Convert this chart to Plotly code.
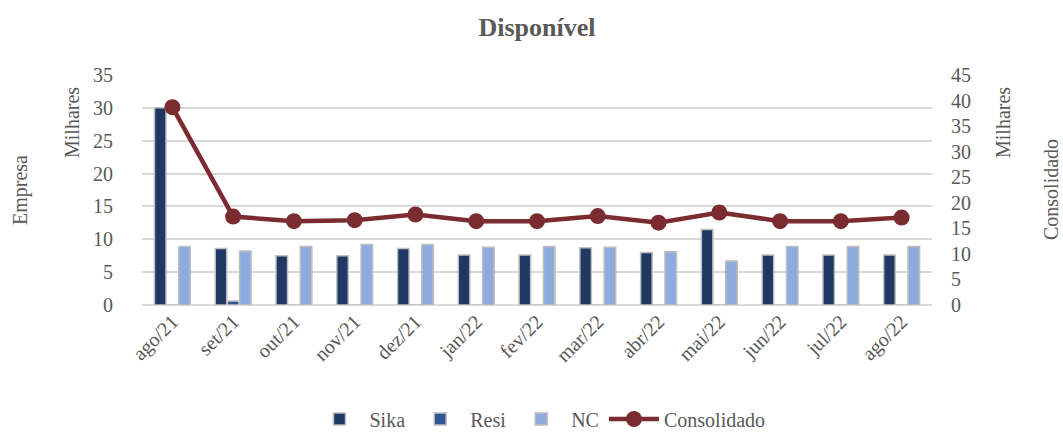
import plotly.graph_objects as go

categories = ["ago/21", "set/21", "out/21", "nov/21", "dez/21", "jan/22", "fev/22",
              "mar/22", "abr/22", "mai/22", "jun/22", "jul/22", "ago/22"]
sika = [30.0, 8.6, 7.5, 7.5, 8.6, 7.6, 7.6, 8.7, 8.0, 11.5, 7.6, 7.6, 7.6]
resi = [0, 0.6, 0, 0, 0, 0, 0, 0, 0, 0, 0, 0, 0]
nc = [8.9, 8.2, 8.9, 9.2, 9.2, 8.8, 8.9, 8.8, 8.1, 6.7, 8.9, 8.9, 8.9]
consolidado = [38.7, 17.3, 16.4, 16.6, 17.7, 16.4, 16.4, 17.4, 16.1, 18.1, 16.4, 16.4, 17.1]

FONT = "Liberation Serif"
GREY = "#595959"
OUTLINE = dict(color="#BFBFBF", width=1.5)
FS = 20

fig = go.Figure()
fig.add_trace(go.Bar(x=categories, y=sika, name="Sika", marker=dict(color="#1F3864", line=OUTLINE)))
fig.add_trace(go.Bar(x=categories, y=resi, name="Resi", marker=dict(color="#2F5597", line=OUTLINE)))
fig.add_trace(go.Bar(x=categories, y=nc, name="NC", marker=dict(color="#8FAADC", line=OUTLINE)))
fig.add_trace(go.Scatter(x=categories, y=consolidado, name="Consolidado", yaxis="y2",
                         mode="lines+markers",
                         line=dict(color="#7B2C31", width=4.5),
                         marker=dict(color="#7B2C31", size=16)))

L, R, T, B = 142, 131, 75, 130
W, H = 1063, 435
pw = W - L - R
ph = H - T - B

fig.update_layout(
    width=W, height=H,
    margin=dict(l=L, r=R, t=T, b=B, autoexpand=False),
    paper_bgcolor="white", plot_bgcolor="white",
    font=dict(family=FONT, size=FS, color=GREY),
    title=dict(text="<b>Disponível</b>", x=537 / W, xanchor="center", y=1 - 27 / H,
               yanchor="middle", font=dict(family=FONT, size=26, color=GREY)),
    barmode="group", bargap=0.4, bargroupgap=0.05,
    showlegend=True,
    legend=dict(orientation="h", x=(540 - L) / pw, xanchor="center", y=-(419 - (H - B)) / ph,
                yanchor="middle", tracegroupgap=0,
                font=dict(family=FONT, size=FS, color=GREY), itemwidth=50),
    xaxis=dict(tickangle=-45, showgrid=False, showline=False, ticks="", automargin=False,
               range=[-0.5, len(categories) - 0.5],
               tickfont=dict(family=FONT, size=FS, color=GREY)),
    yaxis=dict(range=[0, 35], dtick=5, showgrid=True, gridcolor="#D9D9D9", gridwidth=1.5,
               zeroline=True, zerolinecolor="#D9D9D9", zerolinewidth=1.5,
               ticks="", ticklabelstandoff=28, automargin=False,
               tickfont=dict(family=FONT, size=FS, color=GREY)),
    yaxis2=dict(range=[0, 45], dtick=5, overlaying="y", side="right", showgrid=False,
                zeroline=False, ticks="", ticklabelstandoff=18, automargin=False,
                tickfont=dict(family=FONT, size=FS, color=GREY)),
    annotations=[
        dict(text="Empresa", x=20, y=190, showarrow=False, textangle=-90),
        dict(text="Milhares", x=72, y=123, showarrow=False, textangle=-90),
        dict(text="Milhares", x=1003, y=123, showarrow=False, textangle=-90),
        dict(text="Consolidado", x=1051, y=190, showarrow=False, textangle=-90),
    ],
)

# convert pixel positions of the side labels to paper coordinates
anns = []
for a in fig.layout.annotations:
    a.x = (a.x - L) / pw
    a.y = (H - B - a.y) / ph
    a.xref = "paper"
    a.yref = "paper"
    a.xanchor = "center"
    a.yanchor = "middle"
    a.font = dict(family=FONT, size=FS, color=GREY)
    anns.append(a)
fig.layout.annotations = anns

fig.write_html("out.html", config={"displayModeBar": False},
               post_script="document.body.style.margin='0';document.body.style.overflow='hidden';")
